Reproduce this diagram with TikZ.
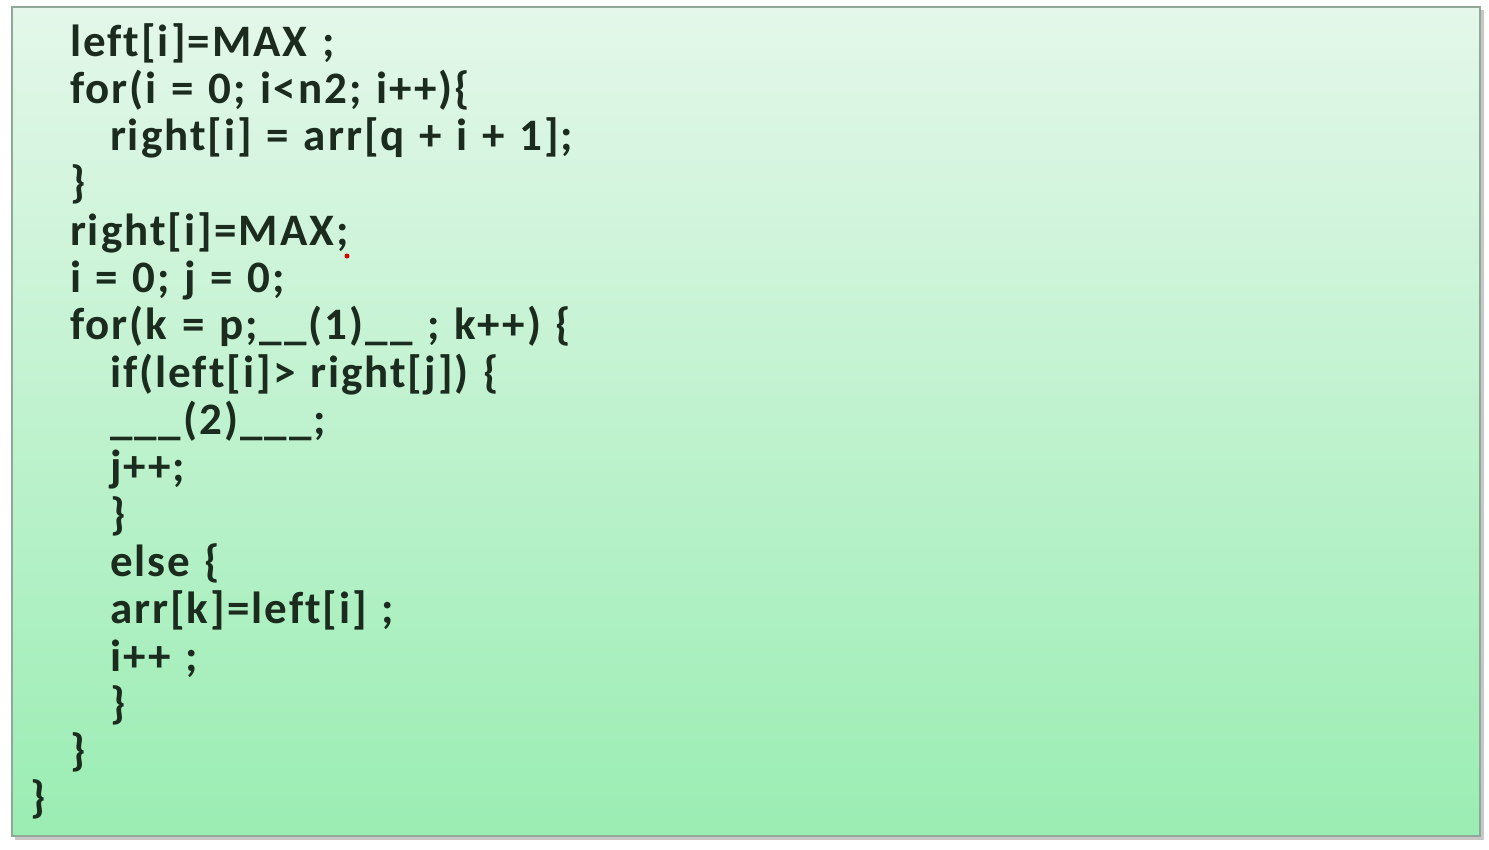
\documentclass[tikz,border=0pt]{standalone}
\usepackage{fontspec}
\setmainfont{Carlito}[LetterSpace=4.5,WordSpace=1.2,Ligatures={NoCommon}]
\definecolor{bgtop}{HTML}{E4F7EA}
\definecolor{bgbot}{HTML}{9AEDB3}
\definecolor{frame}{HTML}{8FA897}
\definecolor{ink}{HTML}{1B2B1D}
\tikzset{
  code/.style={anchor=base west, inner sep=0pt, outer sep=0pt, text=ink,
    font=\fontsize{45}{47}\selectfont\bfseries}
}
\begin{document}
\begin{tikzpicture}[x=1pt,y=-1pt]
\useasboundingbox (0,0) rectangle (1489,849);
\fill[white] (0,0) rectangle (1489,849);
% shadow
\fill[black!22] (15,10) rectangle (1484,840);
\shade[top color=bgtop, bottom color=bgbot, draw=frame, line width=1.5pt]
  (12,7) rectangle (1480,836);
% code lines
\node[code] (l1)  at (70,56)   {left[i]=MAX ;};
\node[code] (l2)  at (70,103)  {for(i = 0; i<n2; i++)\{};
\node[code] (l3)  at (110,150) {right[i] = arr[q + i + 1];};
\node[code] (l4)  at (70,197)  {\}};
\node[code] (l5)  at (70,245)  {right[i]=MAX;};
\node[code] (l6)  at (70,292)  {i = 0; j = 0;};
\node[code] (l7)  at (70,339)  {for(k = p;\_\_(1)\_\_ ; k++) \{};
\node[code] (l8)  at (110,387) {if(left[i]> right[j]) \{};
\node[code] (l9)  at (110,434) {\_\_\_(2)\_\_\_;};
\node[code] (l10) at (110,481) {j++;};
\node[code] (l11) at (110,529) {\}};
\node[code] (l12) at (110,576) {else \{};
\node[code] (l13) at (110,623) {arr[k]=left[i] ;};
\node[code] (l14) at (110,671) {i++ ;};
\node[code] (l15) at (110,718) {\}};
\node[code] (l16) at (70,765)  {\}};
\node[code] (l17) at (30,812)  {\}};
\fill[red!85!black] (347,256) circle (2.5);
\end{tikzpicture}
\end{document}
